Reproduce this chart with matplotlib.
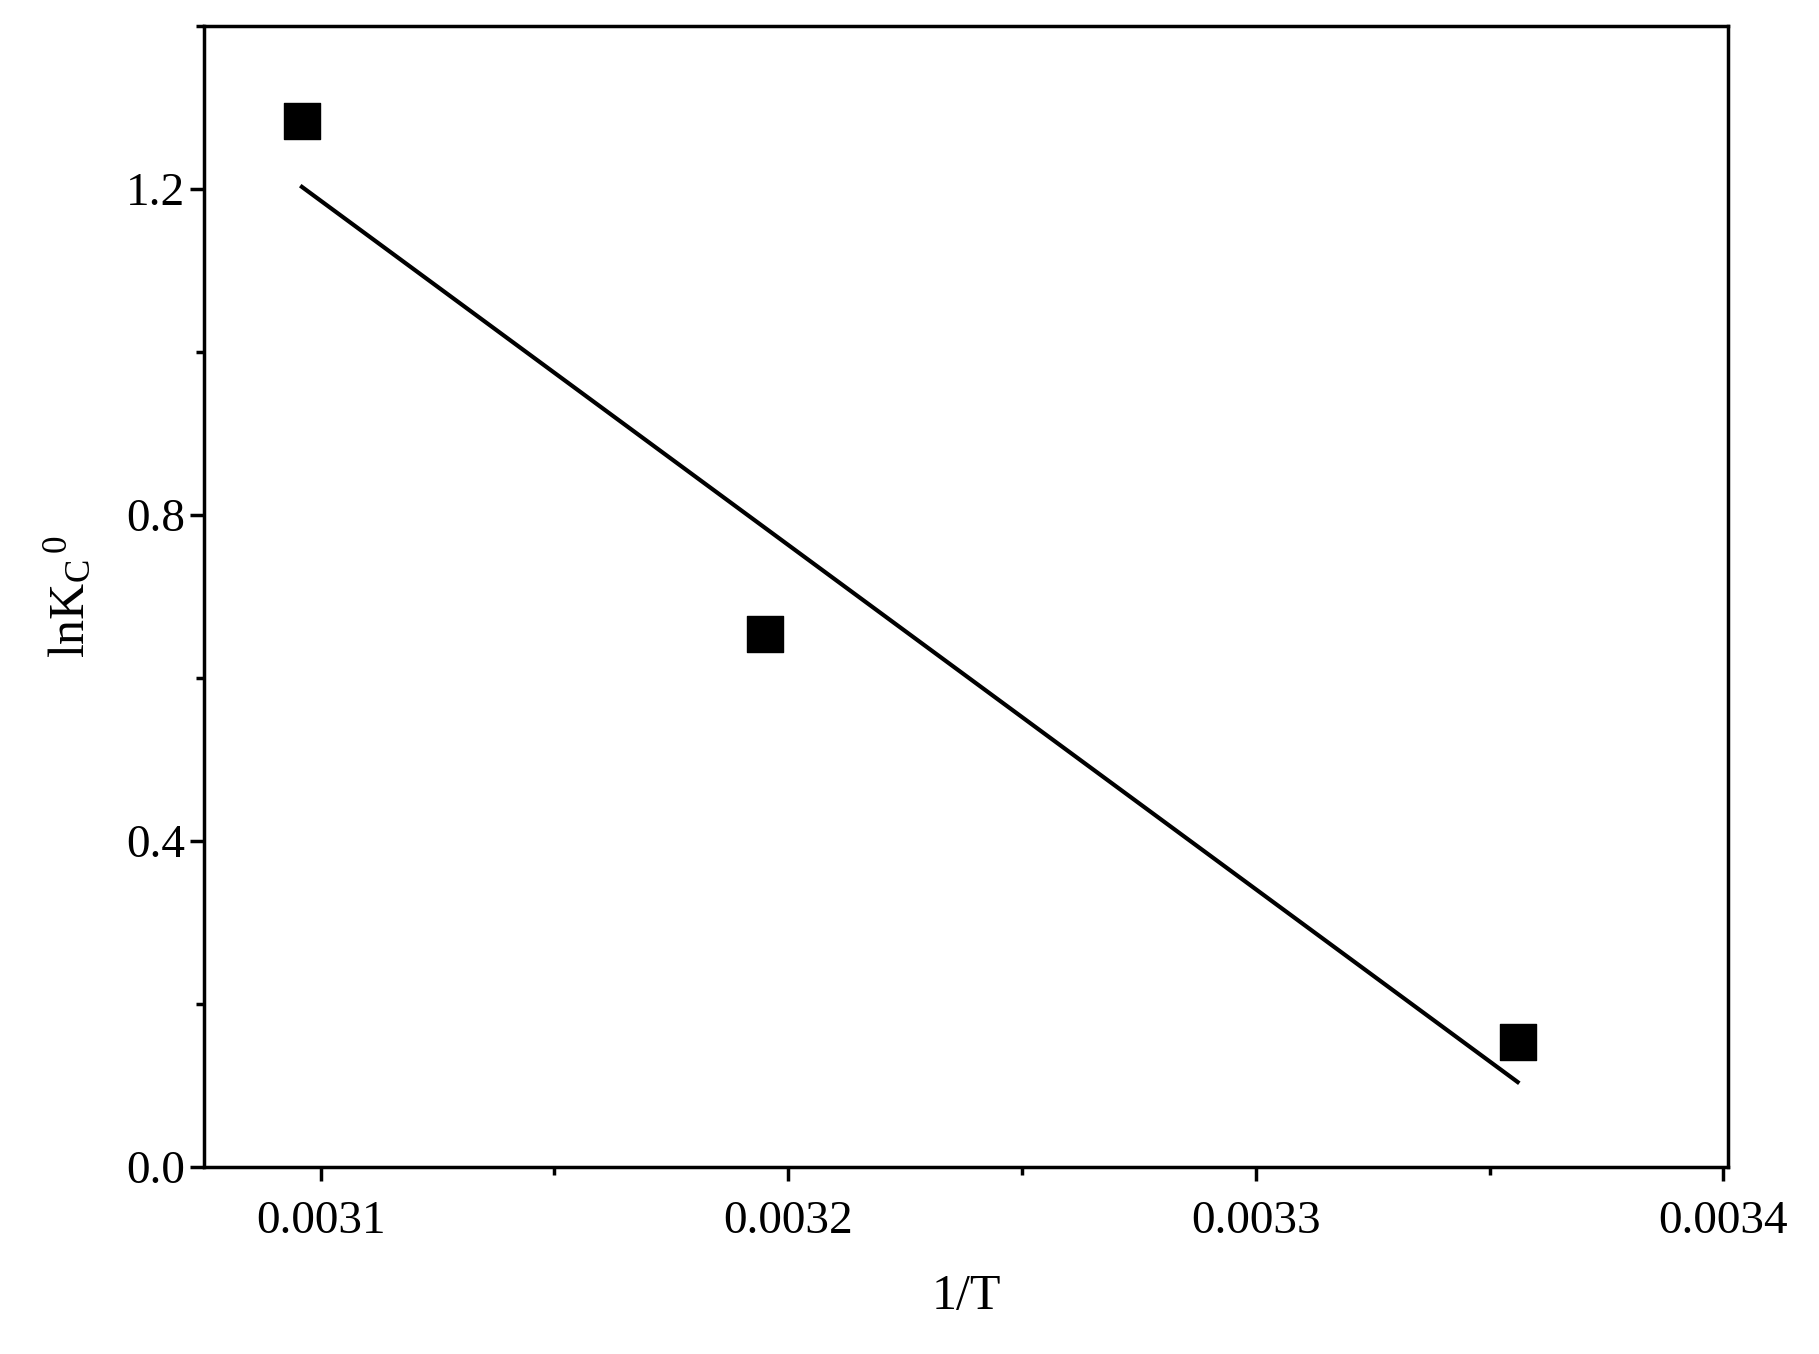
import matplotlib
matplotlib.use("Agg")
import matplotlib.pyplot as plt
import numpy as np
from matplotlib.ticker import MultipleLocator

plt.rcParams['font.family'] = ['Liberation Serif', 'DejaVu Serif']
plt.rcParams['mathtext.fontset'] = 'custom'
plt.rcParams['mathtext.rm'] = 'Liberation Serif'
plt.rcParams['mathtext.it'] = 'Liberation Serif'

inv_T = [0.003096, 0.003195, 0.003356]
lnKc = [1.283, 0.654, 0.154]

fig = plt.figure(figsize=(18.19, 13.54), dpi=100)
ax = fig.add_axes([0.112, 0.138, 0.838, 0.843])
ax.scatter(inv_T, lnKc, marker='s', s=700, color='black', zorder=3)
k, b = np.polyfit(inv_T, lnKc, 1)
xs = np.array([inv_T[0], inv_T[-1]])
ax.plot(xs, k*xs+b, color='black', lw=3)

ax.set_xlim(0.003075, 0.003401)
ax.set_ylim(0, 1.4)
ax.xaxis.set_major_locator(MultipleLocator(0.0001))
ax.xaxis.set_minor_locator(MultipleLocator(0.00005))
ax.yaxis.set_major_locator(MultipleLocator(0.4))
ax.yaxis.set_minor_locator(MultipleLocator(0.2))
ax.xaxis.set_major_formatter(matplotlib.ticker.FuncFormatter(lambda v, p: f"{v:.4f}"))
ax.yaxis.set_major_formatter(matplotlib.ticker.FuncFormatter(lambda v, p: f"{v:.1f}"))
ax.tick_params(which='both', direction='out', width=2.5, labelsize=34)
ax.tick_params(which='major', length=10)
ax.tick_params(which='minor', length=6)
ax.tick_params(axis='x', pad=14)
for s in ax.spines.values():
    s.set_linewidth(2.5)
ax.set_xlabel('1/T', fontsize=36, labelpad=22)
ax.set_ylabel(r'$\mathrm{lnK_C}^{\,0}$', fontsize=36, labelpad=22)
fig.savefig('out.png', dpi=100)
